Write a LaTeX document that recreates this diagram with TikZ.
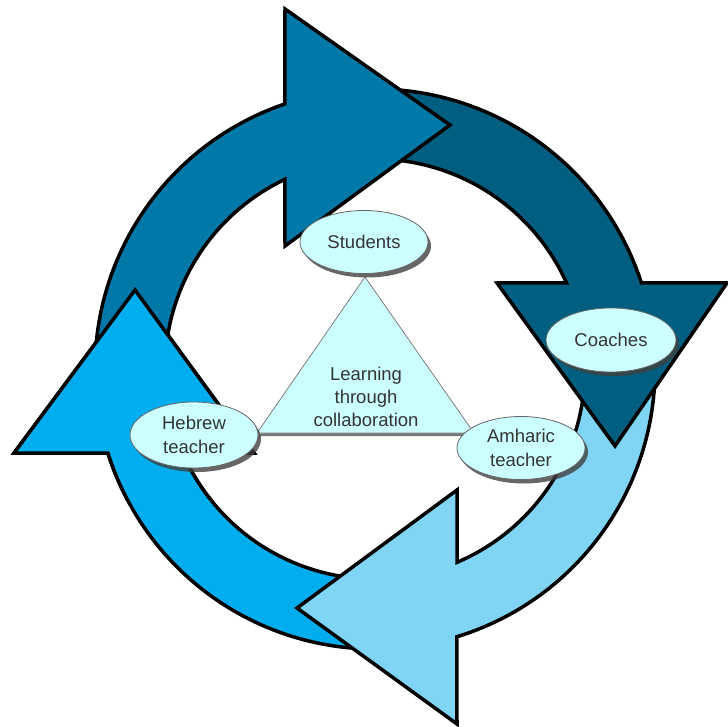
\documentclass[tikz,border=0pt]{standalone}
\usepackage{fontspec}
\setmainfont{Liberation Sans}
\usetikzlibrary{shapes.geometric,shadows}
\definecolor{arrA}{HTML}{0079A8}
\definecolor{arrB}{HTML}{005F80}
\definecolor{arrC}{HTML}{80D4F4}
\definecolor{arrD}{HTML}{00AEEF}
\definecolor{bubble}{HTML}{CCFFFF}
\definecolor{txt}{HTML}{333333}
\begin{document}
\begin{tikzpicture}[x=1pt,y=-1pt,
  ringarrow/.style={draw=black,line width=3.5pt,line join=miter},
  bub/.style={ellipse,fill=bubble,draw=black!60,line width=0.8pt,text=txt,align=center,inner sep=0pt,
    font=\fontsize{18.5}{24}\selectfont,
    drop shadow={shadow xshift=3pt,shadow yshift=-4pt,fill=black!75,opacity=0.8}},
  tri/.style={fill=bubble,draw=black!50,line width=0.8pt,
    drop shadow={shadow xshift=2pt,shadow yshift=-3pt,fill=black!75,opacity=0.7}}]
\useasboundingbox (0,0) rectangle (728,727);
\fill[white] (0,0) rectangle (728,727);
% arrow 4 (bottom-left, points up)
\path[ringarrow,fill=arrD] plot[domain=90:162.5,samples=60] ({375+280*cos(\x)},{369+280*sin(\x)})
  -- (14,453) -- (135,290) -- (254,453)
  -- plot[domain=156.4:90,samples=60] ({375+210*cos(\x)},{369+210*sin(\x)}) -- cycle;
% arrow 3 (bottom-right, points left)
\path[ringarrow,fill=arrC] plot[domain=-3:73,samples=60] ({375+280*cos(\x)},{369+280*sin(\x)})
  -- (457,724) -- (297,608) -- (457,490)
  -- plot[domain=67:-3,samples=60] ({375+210*cos(\x)},{369+210*sin(\x)}) -- cycle;
% arrow 2 (top-right, points down)
\path[ringarrow,fill=arrB] plot[domain=268:342.1,samples=60] ({375+280*cos(\x)},{369+280*sin(\x)})
  -- (727,283) -- (615,446) -- (497,283)
  -- plot[domain=335.8:268,samples=60] ({375+210*cos(\x)},{369+210*sin(\x)}) -- cycle;
% arrow 1 (top-left, points right)
\path[ringarrow,fill=arrA] plot[domain=175:251.2,samples=60] ({375+280*cos(\x)},{369+280*sin(\x)})
  -- (285,9) -- (450,125) -- (285,246)
  -- plot[domain=244.6:175,samples=60] ({375+210*cos(\x)},{369+210*sin(\x)}) -- cycle;
% arrow 4 head again, over the tail of arrow 1
\begin{scope}
\clip (0,0) rectangle (280,500);
\path[ringarrow,fill=arrD] plot[domain=90:162.5,samples=60] ({375+280*cos(\x)},{369+280*sin(\x)})
  -- (14,453) -- (135,290) -- (254,453)
  -- plot[domain=156.4:90,samples=60] ({375+210*cos(\x)},{369+210*sin(\x)}) -- cycle;
\end{scope}
% central triangle
\coordinate (t1) at (365,277);
\coordinate (t2) at (257,433);
\coordinate (t3) at (474,433);
\path[tri] (t1) -- (t2) -- (t3) -- cycle;
\node[text=txt,align=center,font=\fontsize{18.5}{23}\selectfont] (learn) at (366,397) {Learning\\through\\collaboration};
% bubbles
\node[bub,minimum width=128pt,minimum height=63pt] (stud) at (364,242) {Students};
\node[bub,minimum width=130pt,minimum height=64pt] (coach) at (611,340) {Coaches};
\node[bub,minimum width=128pt,minimum height=66pt] (heb) at (194,435) {Hebrew\\teacher};
\node[bub,minimum width=128pt,minimum height=63pt] (amh) at (521,448) {Amharic\\teacher};
\end{tikzpicture}
\end{document}
